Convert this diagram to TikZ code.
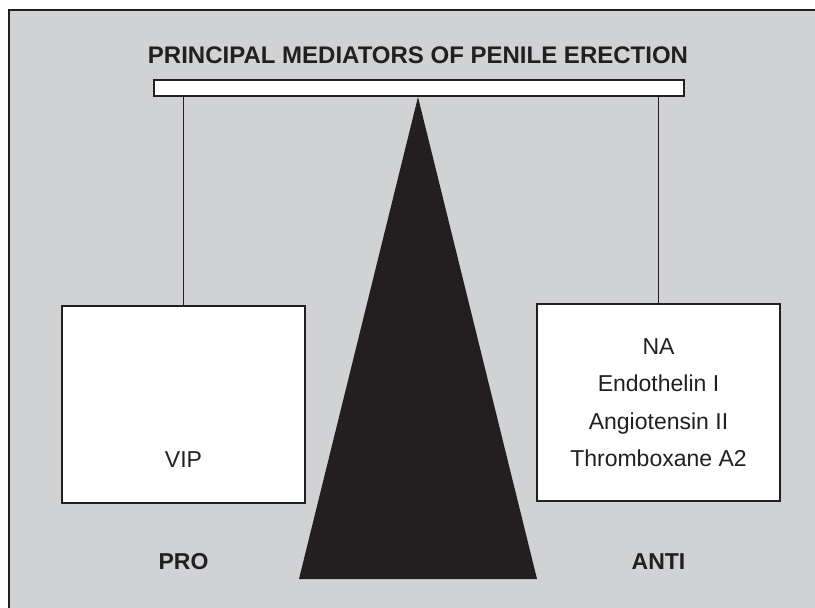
\documentclass[tikz,border=0pt]{standalone}
\usepackage{fontspec}
\setmainfont{Liberation Sans}
\usetikzlibrary{positioning,calc}
\definecolor{panel}{HTML}{D1D2D4}
\definecolor{ink}{HTML}{231F20}
\begin{document}
\begin{tikzpicture}[x=1pt,y=-1pt,
  txt/.style={font=\fontsize{23}{37.5}\selectfont,text=ink,inner sep=0pt},
  hd/.style={txt,font=\fontsize{23}{37.5}\selectfont\bfseries},
  box/.style={draw=ink,line width=1.4pt,fill=white,minimum width=243pt,minimum height=197pt,inner sep=0pt},
  link/.style={draw=ink,line width=1.3pt}]
\useasboundingbox (0,0) rectangle (815,608);
\fill[white] (0,0) rectangle (815,608);
\clip (0,0) rectangle (815,608);
\draw[ink,line width=2pt,fill=panel] (9,10) rectangle (840,640);
\node[hd,font=\fontsize{24}{30}\selectfont\bfseries] (title) at (418,55) {PRINCIPAL MEDIATORS OF PENILE ERECTION};
\node[box,minimum width=530pt,minimum height=16pt] (bar) at (419,88) {};
\node[box] (probox) at (183.5,404.5) {};
\node[box,txt,align=center,draw=ink,fill=white] (antibox) at (658.5,402.5)
  {NA\\Endothelin I\\Angiotensin II\\Thromboxane A2};
\node[txt] (vip) at (183.5,460) {VIP};
\path[link]
(bar.south -| probox.north) edge (probox.north)
(bar.south -| antibox.north) edge (antibox.north)
;
\coordinate (apex) at (418,97);
\coordinate (baseL) at (299,579);
\coordinate (baseR) at (537,579);
\fill[ink] (apex) -- (baseL) -- (baseR) -- cycle;
\node[hd] (pro) at (183.5,562) {PRO};
\node[hd] (anti) at (658.5,562) {ANTI};
\end{tikzpicture}
\end{document}
